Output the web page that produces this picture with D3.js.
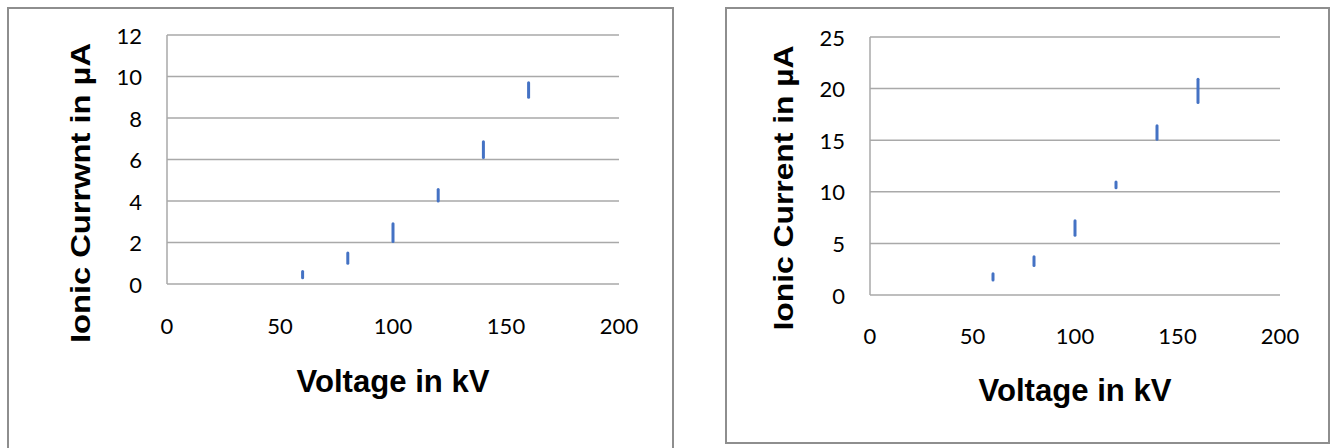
<!DOCTYPE html>
<html>
<head>
<meta charset="utf-8">
<script src="https://cdn.jsdelivr.net/npm/d3@7"></script>
<style>
  body { margin: 0; background: #fff; }
  svg { display: block; }
  .tick-label { font-family: Lato, 'Open Sans', sans-serif; font-size: 22px; fill: #000; }
  .title { font-family: 'Liberation Sans', Arial, sans-serif; font-weight: bold; fill: #000; }
</style>
</head>
<body>
<div id="chart"></div>
<script>
// voltage steps (kV)
var voltages = [60, 80, 100, 120, 140, 160];

// left panel, ionic current range (uA)
var leftLow  = [0.3, 1.0, 2.05, 4.0, 6.1, 9.0];
var leftHigh = [0.6, 1.5, 2.9, 4.55, 6.85, 9.7];

// right panel, ionic current range (uA)
var rightLow  = [1.45, 2.85, 5.8, 10.4, 15.1, 18.65];
var rightHigh = [2.05, 3.7, 7.2, 10.95, 16.4, 20.9];

var xTicks = [0, 50, 100, 150, 200];
var leftYTicks = [0, 2, 4, 6, 8, 10, 12];
var rightYTicks = [0, 5, 10, 15, 20, 25];

var leftYTitle = 'Ionic Currwnt in \u00b5A';
var rightYTitle = 'Ionic Current in \u00b5A';
var xTitle = 'Voltage in kV';

var svg = d3.select('#chart')
  .append('svg')
  .attr('width', 1333)
  .attr('height', 448);

//--- PANEL FRAMES
svg.append('rect')
  .attr('x', 8).attr('y', 8)
  .attr('width', 665).attr('height', 460)
  .attr('fill', 'none')
  .attr('stroke', '#8e8e8e')
  .attr('stroke-width', 2);

svg.append('rect')
  .attr('x', 726).attr('y', 8)
  .attr('width', 603).attr('height', 435)
  .attr('fill', 'none')
  .attr('stroke', '#8e8e8e')
  .attr('stroke-width', 2);

function panel(opt) {
  var x = d3.scaleLinear().domain([0, 200]).range([opt.left, opt.right]);
  var y = d3.scaleLinear().domain([0, opt.yMax]).range([opt.bottom, opt.top]);

  var g = svg.append('g');

  //--- GRID LINES
  g.selectAll('.grid')
    .data(opt.yTicks)
    .enter().append('line')
    .attr('x1', x(0)).attr('x2', x(200))
    .attr('y1', function(d) { return y(d); })
    .attr('y2', function(d) { return y(d); })
    .attr('stroke', '#a9a9a9')
    .attr('stroke-width', 1.5);

  // vertical axis line
  g.append('line')
    .attr('x1', x(0)).attr('x2', x(0))
    .attr('y1', y(0)).attr('y2', y(opt.yMax))
    .attr('stroke', '#a9a9a9')
    .attr('stroke-width', 1.5);

  //--- Y TICK LABELS
  g.selectAll('.ylab')
    .data(opt.yTicks)
    .enter().append('text')
    .attr('class', 'tick-label')
    .attr('x', x(0) - 25)
    .attr('y', function(d) { return y(d) + 3; })
    .attr('text-anchor', 'end')
    .attr('dominant-baseline', 'middle')
    .text(function(d) { return d; });

  //--- X TICK LABELS
  g.selectAll('.xlab')
    .data(xTicks)
    .enter().append('text')
    .attr('class', 'tick-label')
    .attr('x', function(d) { return x(d); })
    .attr('y', opt.xLabelY)
    .attr('text-anchor', 'middle')
    .attr('dominant-baseline', 'middle')
    .text(function(d) { return d; });

  //--- RANGE BARS
  g.selectAll('.bar')
    .data(voltages)
    .enter().append('line')
    .attr('x1', function(d) { return x(d); })
    .attr('x2', function(d) { return x(d); })
    .attr('y1', function(d, i) { return y(opt.low[i]); })
    .attr('y2', function(d, i) { return y(opt.high[i]); })
    .attr('stroke', '#4472c4')
    .attr('stroke-width', 3)
    .attr('stroke-linecap', 'round');

  //--- TITLES
  g.append('text')
    .attr('class', 'title')
    .attr('transform', 'translate(' + opt.yTitleX + ',' + opt.yTitleY + ') rotate(-90)')
    .attr('text-anchor', 'middle')
    .style('font-size', '28px')
    .attr('textLength', opt.yTitleLen)
    .attr('lengthAdjust', 'spacingAndGlyphs')
    .text(opt.yTitle);

  g.append('text')
    .attr('class', 'title')
    .attr('x', opt.xTitleX)
    .attr('y', opt.xTitleY)
    .attr('text-anchor', 'middle')
    .style('font-size', '31px')
    .attr('textLength', 193)
    .attr('lengthAdjust', 'spacingAndGlyphs')
    .text(xTitle);
}

panel({
  left: 167, right: 619, top: 35, bottom: 284,
  yMax: 12, yTicks: leftYTicks,
  low: leftLow, high: leftHigh,
  xLabelY: 328,
  yTitle: leftYTitle, yTitleX: 90, yTitleY: 193, yTitleLen: 300,
  xTitleX: 393, xTitleY: 392
});

panel({
  left: 870, right: 1280, top: 37, bottom: 295,
  yMax: 25, yTicks: rightYTicks,
  low: rightLow, high: rightHigh,
  xLabelY: 338,
  yTitle: rightYTitle, yTitleX: 793, yTitleY: 188, yTitleLen: 285,
  xTitleX: 1075, xTitleY: 401
});
</script>
</body>
</html>
